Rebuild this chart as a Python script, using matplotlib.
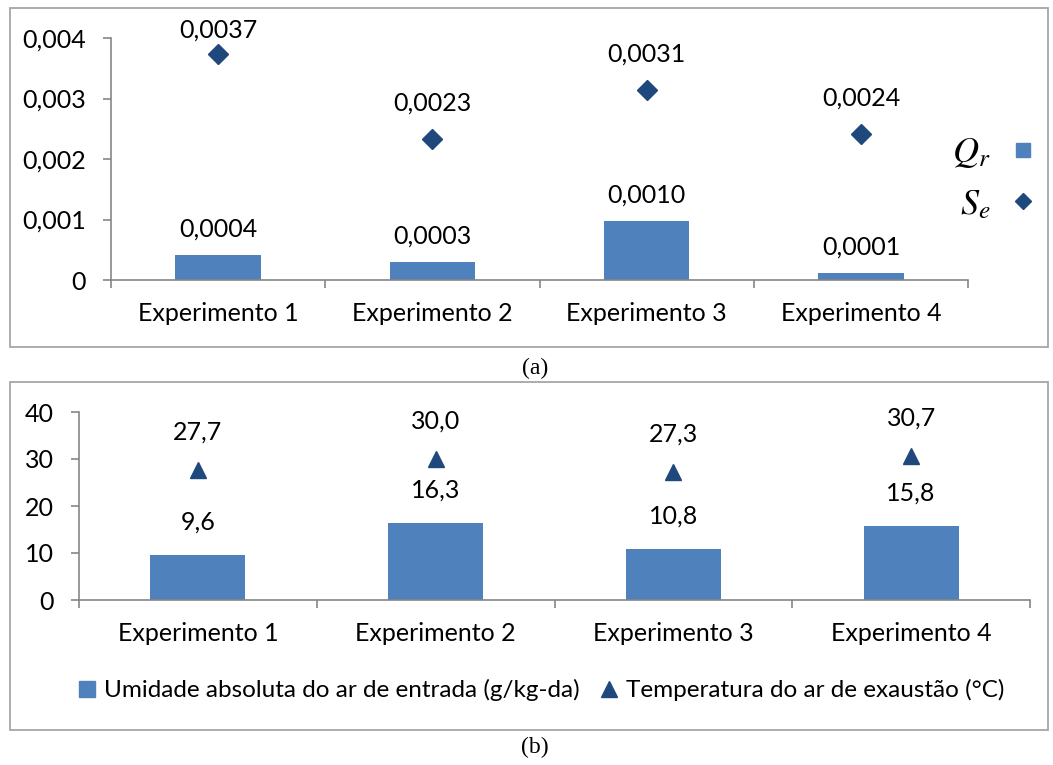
import numpy as np
import matplotlib.pyplot as plt
from matplotlib.patches import Rectangle
from matplotlib.lines import Line2D
from matplotlib.ticker import FuncFormatter

experimentos = ["Experimento 1", "Experimento 2", "Experimento 3", "Experimento 4"]
qr = [0.00042, 0.00029, 0.00098, 0.00012]
se = [0.00373, 0.00233, 0.00314, 0.00242]
umidade = [9.6, 16.3, 10.8, 15.8]
temperatura = [27.7, 30.0, 27.3, 30.7]

BAR = "#4F81BD"
MARK = "#1F497D"
AXIS = "#868686"
FRAME = "#A6A6A6"
FS = 18

plt.rcParams['font.family'] = ['Lato', 'DejaVu Sans']
plt.rcParams['mathtext.fontset'] = 'stix'

W, H = 1053, 765
fig = plt.figure(figsize=(W / 100, H / 100), dpi=100)


def px_axes(left, top, right, bottom):
    return fig.add_axes([left / W, 1 - bottom / H, (right - left) / W, (bottom - top) / H])


def frame(left, top, right, bottom):
    fig.patches.append(Rectangle((left / W, 1 - bottom / H), (right - left) / W,
                                 (bottom - top) / H, transform=fig.transFigure,
                                 fill=False, ec=FRAME, lw=1.3))


def style(ax, ylim, yticks, fmt):
    for s in ['top', 'right']:
        ax.spines[s].set_visible(False)
    for s in ['left', 'bottom']:
        ax.spines[s].set_color(AXIS)
        ax.spines[s].set_linewidth(1.2)
    ax.set_xlim(-0.5, 3.5)
    ax.set_ylim(*ylim)
    ax.set_xticks(range(4))
    ax.set_xticklabels(experimentos, fontsize=FS)
    ax.set_xticks(np.arange(-0.5, 4, 1), minor=True)
    ax.tick_params(axis='x', which='major', length=0, pad=16)
    ax.tick_params(axis='x', which='minor', length=6, color=AXIS, width=1.2)
    ax.set_yticks(yticks)
    ax.yaxis.set_major_formatter(FuncFormatter(fmt))
    ax.tick_params(axis='y', length=6, color=AXIS, width=1.2, pad=12, labelsize=FS)


def label(ax, x, y, text, off, top_limit=None):
    ypx = ax.transData.transform((x, y))[1]
    if top_limit is not None:
        off = min(off, top_limit - ypx)
    ax.annotate(text, (x, y), xytext=(0, off), textcoords='offset pixels',
                ha='center', va='center', fontsize=FS)


def comma(v, nd):
    return f"{v:.{nd}f}".replace('.', ',')


# painel (a)
frame(10, 8, 1048, 347)
ax1 = px_axes(111, 38, 968, 280)
style(ax1, (0, 0.004), [0, 0.001, 0.002, 0.003, 0.004],
      lambda v, p: '0' if v == 0 else comma(v, 3))
x = np.arange(4)
ax1.bar(x, qr, width=0.4, color=BAR)
ax1.plot(x, se, 'D', color=MARK, ms=10, ls='none', clip_on=False)
top_px = ax1.transAxes.transform((0, 1))[1] + 8
for i in range(4):
    label(ax1, i, qr[i], comma(qr[i], 4), 26)
    label(ax1, i, se[i], comma(se[i], 4), 36, top_px)

handles = [Line2D([], [], marker='s', color=BAR, ls='none', ms=10),
           Line2D([], [], marker='D', color=MARK, ls='none', ms=8)]
fig.legend(handles, ['$Q_r$', '$S_e$'], loc='center left',
           bbox_to_anchor=(952 / W, 1 - 178 / H), frameon=False, markerfirst=False,
           fontsize=26, labelspacing=0.45, handletextpad=0.5, handlelength=0.8,
           borderpad=0, borderaxespad=0)

fig.text(535 / W, 1 - 368 / H, '(a)', ha='center', va='center',
         family='Liberation Serif', fontsize=17)

# painel (b)
frame(10, 382, 1048, 730)
ax2 = px_axes(79, 412, 1030, 600)
style(ax2, (0, 40), [0, 10, 20, 30, 40], lambda v, p: f"{v:.0f}")
ax2.bar(x, umidade, width=0.4, color=BAR)
ax2.plot(x, temperatura, '^', color=MARK, ms=12, ls='none')
for i in range(4):
    label(ax2, i, umidade[i], comma(umidade[i], 1), 33)
    label(ax2, i, temperatura[i], comma(temperatura[i], 1), 38)

leg_handles = [Line2D([], [], marker='s', color=BAR, ls='none', ms=11),
               Line2D([], [], marker='^', color=MARK, ls='none', ms=11)]
fig.legend(leg_handles, ['Umidade absoluta do ar de entrada (g/kg-da)',
                         'Temperatura do ar de exaustão (°C)'],
           loc='center', bbox_to_anchor=(541 / W, 1 - 690 / H), ncol=2, frameon=False,
           fontsize=17.5, handlelength=0.8, handletextpad=0.3, columnspacing=0.8)

fig.text(535 / W, 1 - 747 / H, '(b)', ha='center', va='center',
         family='Liberation Serif', fontsize=17)

fig.savefig('out.png', dpi=100)
